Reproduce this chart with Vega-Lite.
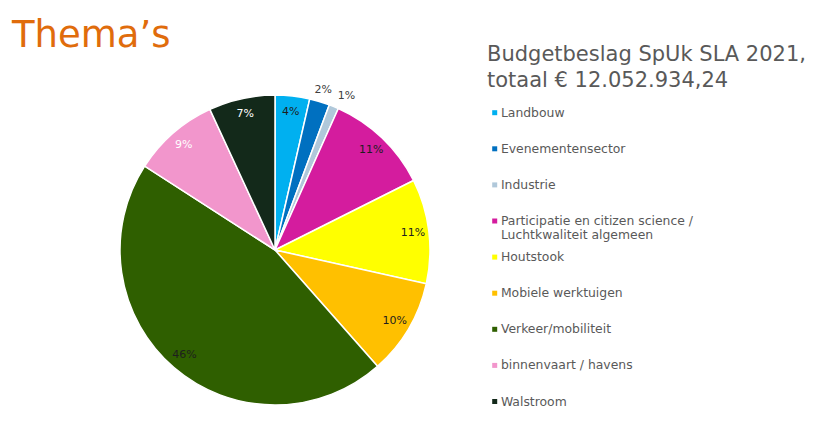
{
  "$schema": "https://vega.github.io/schema/vega-lite/v6.json",
  "autosize": {"type": "none"},
  "width": 550,
  "height": 352,
  "padding": {"left": 0, "top": 74, "right": 272, "bottom": 0},
  "background": "white",
  "title": {
    "text": "Thema’s",
    "anchor": "start",
    "frame": "group",
    "font": "DejaVu Sans",
    "fontSize": 37,
    "fontWeight": "normal",
    "color": "#E06C0C",
    "dx": 12,
    "offset": -11
  },
  "data": {
    "values": [
      {"thema": "Landbouw", "aandeel": 0.036, "volgorde": 1},
      {"thema": "Evenementensector", "aandeel": 0.021, "volgorde": 2},
      {"thema": "Industrie", "aandeel": 0.010, "volgorde": 3},
      {"thema": "Participatie en citizen science / Luchtkwaliteit algemeen", "aandeel": 0.109, "volgorde": 4},
      {"thema": "Houtstook", "aandeel": 0.109, "volgorde": 5},
      {"thema": "Mobiele werktuigen", "aandeel": 0.100, "volgorde": 6},
      {"thema": "Verkeer/mobiliteit", "aandeel": 0.456, "volgorde": 7},
      {"thema": "binnenvaart / havens", "aandeel": 0.090, "volgorde": 8},
      {"thema": "Walstroom", "aandeel": 0.069, "volgorde": 9}
    ]
  },
  "encoding": {
    "theta": {"field": "aandeel", "type": "quantitative", "stack": true},
    "order": {"field": "volgorde", "type": "quantitative"}
  },
  "layer": [
    {
      "mark": {"type": "arc", "outerRadius": 155, "stroke": "white", "strokeWidth": 1.5},
      "encoding": {
        "color": {
          "field": "thema",
          "type": "nominal",
          "scale": {
            "domain": ["Landbouw", "Evenementensector", "Industrie", "Participatie en citizen science / Luchtkwaliteit algemeen", "Houtstook", "Mobiele werktuigen", "Verkeer/mobiliteit", "binnenvaart / havens", "Walstroom"],
            "range": ["#00B0F0", "#0070C0", "#B0C8DA", "#D41C9E", "#FFFF00", "#FFC000", "#2F5F00", "#F296CC", "#13291A"]
          },
          "legend": {
            "orient": "none",
            "legendX": 487,
            "legendY": -30,
            "title": ["Budgetbeslag SpUk SLA 2021,", "totaal € 12.052.934,24"],
            "titleFont": "DejaVu Sans",
            "titleFontSize": 21,
            "titleFontWeight": "normal",
            "titleColor": "#595959",
            "titleLineHeight": 26,
            "titleLimit": 400,
            "titlePadding": 15.5,
            "labelFont": "DejaVu Sans",
            "labelFontSize": 12.4,
            "labelColor": "#595959",
            "labelLimit": 400,
            "labelOffset": 0,
            "labelExpr": "indexof(datum.label, 'Participatie') == 0 ? ['Participatie en citizen science /', 'Luchtkwaliteit algemeen'] : datum.label",
            "symbolType": "square",
            "symbolSize": 25,
            "symbolStrokeWidth": 0,
            "symbolOffset": 1.5,
            "gridAlign": "all",
            "rowPadding": 9.1,
            "padding": 0
          }
        }
      }
    },
    {
      "mark": {"type": "text", "radius": 139, "font": "DejaVu Sans", "fontSize": 11},
      "encoding": {
        "text": {"field": "aandeel", "type": "quantitative", "format": ".0%"},
        "opacity": {"condition": {"test": "datum.aandeel >= 0.03", "value": 1}, "value": 0},
        "color": {"condition": {"test": "datum.thema == 'Walstroom' || datum.thema == 'binnenvaart / havens'", "value": "#FFFFFF"}, "value": "#1E1E1E"}
      }
    },
    {
      "mark": {"type": "text", "radius": 167, "font": "DejaVu Sans", "fontSize": 11, "color": "#404040"},
      "encoding": {
        "text": {"field": "aandeel", "type": "quantitative", "format": ".0%"},
        "opacity": {"condition": {"test": "datum.aandeel < 0.03 && datum.aandeel >= 0.015", "value": 1}, "value": 0}
      }
    },
    {
      "mark": {"type": "text", "radius": 167, "dx": 8, "font": "DejaVu Sans", "fontSize": 11, "color": "#404040"},
      "encoding": {
        "text": {"field": "aandeel", "type": "quantitative", "format": ".0%"},
        "opacity": {"condition": {"test": "datum.aandeel < 0.015", "value": 1}, "value": 0}
      }
    }
  ]
}
